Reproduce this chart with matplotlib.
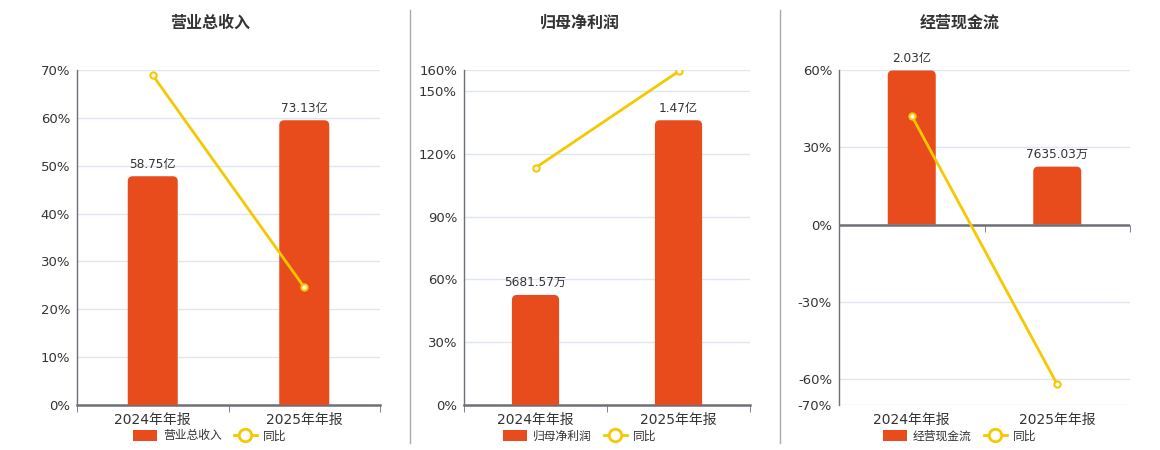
import matplotlib
matplotlib.use("Agg")
import matplotlib.pyplot as plt
from matplotlib.path import Path
from matplotlib.patches import PathPatch, Patch
from matplotlib.lines import Line2D
from matplotlib.ticker import FixedLocator, FuncFormatter
from matplotlib.transforms import IdentityTransform

plt.rcParams['font.family'] = ['DejaVu Sans', 'Noto Sans CJK SC']

categories = ["2024年年报", "2025年年报"]

titles = ["营业总收入", "归母净利润", "经营现金流"]
# bar values in 亿
bar_values = [
    [58.75, 73.13],
    [0.568157, 1.47],
    [2.03, 0.763503],
]
bar_labels = [
    ["58.75亿", "73.13亿"],
    ["5681.57万", "1.47亿"],
    ["2.03亿", "7635.03万"],
]
yoy_values = [
    [68.9, 24.6],
    [113.3, 159.3],
    [42.2, -62.0],
]
y_ticks = [
    [0, 10, 20, 30, 40, 50, 60, 70],
    [0, 30, 60, 90, 120, 150, 160],
    [-70, -60, -30, 0, 30, 60],
]
y_limits = [(0, 70), (0, 160), (-70, 60)]

BAR_COLOR = "#e84c1d"
LINE_COLOR = "#f5c800"
AXIS_COLOR = "#6e7079"
GRID_COLOR = "#e0e6f1"
TEXT_COLOR = "#333333"

W, H = 1160, 450
fig = plt.figure(figsize=(W / 100, H / 100), dpi=100)

# axes pixel boxes (left, right)
ax_boxes = [(77, 380), (464, 750), (839, 1130)]
ax_top, ax_bottom = 70, 405
panel_centers = [210, 580, 960]


def rounded_top_bars(ax, bars, r=5):
    for b in bars:
        x0, y0 = b.get_x(), b.get_y()
        x1, y1 = x0 + b.get_width(), y0 + b.get_height()
        (px0, py0), (px1, py1) = ax.transData.transform([(x0, y0), (x1, y1)])
        verts = [
            (px0, py0), (px0, py1 - r), (px0, py1), (px0 + r, py1),
            (px1 - r, py1), (px1, py1), (px1, py1 - r), (px1, py0), (px0, py0)
        ]
        codes = [Path.MOVETO, Path.LINETO, Path.CURVE3, Path.CURVE3,
                 Path.LINETO, Path.CURVE3, Path.CURVE3, Path.LINETO, Path.CLOSEPOLY]
        patch = PathPatch(Path(verts, codes), facecolor=b.get_facecolor(),
                          edgecolor='none', transform=IdentityTransform(), zorder=2)
        ax.add_artist(patch)
        b.set_visible(False)


x = list(range(len(categories)))

for i in range(3):
    l, r = ax_boxes[i]
    pos = [l / W, 1 - ax_bottom / H, (r - l) / W, (ax_bottom - ax_top) / H]
    axL = fig.add_axes(pos)
    ymin, ymax = y_limits[i]
    axL.set_ylim(ymin, ymax)
    axL.set_xlim(-0.5, 1.5)
    axL.yaxis.set_major_locator(FixedLocator(y_ticks[i]))
    axL.yaxis.set_major_formatter(FuncFormatter(lambda v, p: f"{v:.0f}%"))
    axL.tick_params(axis='y', length=0, pad=5, labelsize=9.5, labelcolor=TEXT_COLOR)
    axL.grid(axis='y', color=GRID_COLOR, linewidth=1)
    axL.set_axisbelow(True)
    for s in ['top', 'right']:
        axL.spines[s].set_visible(False)
    axL.spines['left'].set_color(AXIS_COLOR)
    axL.spines['left'].set_linewidth(1)
    axL.set_xticks(x)
    axL.set_xticklabels(categories)
    axL.set_xticks([-0.5, 0.5, 1.5], minor=True)

    # bar axis
    axB = axL.twinx()
    vals = bar_values[i]
    vmax = max(vals)
    if ymin < 0:
        top = vmax / 0.997
        axB.set_ylim(top * ymin / ymax, top)
    else:
        axB.set_ylim(0, vmax / 0.85)
    axB.set_xlim(-0.5, 1.5)
    axB.set_yticks([])
    for s in axB.spines.values():
        s.set_visible(False)

    if ymin < 0:
        axL.spines['bottom'].set_visible(False)
        axL.tick_params(axis='x', which='both', length=0, pad=6, labelsize=10,
                        labelcolor=TEXT_COLOR)
        zero_frac = (0 - ymin) / (ymax - ymin)
        sec = axL.secondary_xaxis(zero_frac)
        sec.set_alignment('bottom')
        for s in sec.spines.values():
            s.set_visible(False)
        sec.set_xticks([])
        sec.set_xticks([-0.5, 0.5, 1.5], minor=True)
        sec.tick_params(axis='x', which='minor', length=5, color=AXIS_COLOR,
                        direction='out', bottom=True, top=False)
        sec.tick_params(axis='x', which='major', length=0, labelbottom=False,
                        labeltop=False)
        axB.axhline(0, color=AXIS_COLOR, linewidth=1.8, zorder=3)
    else:
        axL.spines['bottom'].set_color(AXIS_COLOR)
        axL.spines['bottom'].set_linewidth(1.8)
        axL.tick_params(axis='x', which='major', length=0, pad=6, labelsize=10,
                        labelcolor=TEXT_COLOR)
        axL.tick_params(axis='x', which='minor', length=5, color=AXIS_COLOR)

    bars = axB.bar(x, vals, width=0.33, color=BAR_COLOR, zorder=2, label=titles[i])
    rounded_top_bars(axB, bars)
    for xi, v, lab in zip(x, vals, bar_labels[i]):
        axB.annotate(lab, (xi, v), xytext=(0, 4), textcoords='offset points',
                     ha='center', va='bottom', fontsize=8.7, color=TEXT_COLOR)

    line, = axB.plot(x, yoy_values[i], transform=axL.transData, color=LINE_COLOR,
                     linewidth=2, marker='o', markersize=4.5, markerfacecolor='white',
                     markeredgecolor=LINE_COLOR, markeredgewidth=1.5, zorder=5,
                     label="同比")

    fig.text(panel_centers[i] / W, 1 - 23 / H, titles[i], ha='center', va='center',
             fontsize=11.5, fontweight='bold', color=TEXT_COLOR)

    leg_line = Line2D([], [], color=LINE_COLOR, linewidth=2, marker='o', markersize=9,
                      markerfacecolor='white', markeredgecolor=LINE_COLOR,
                      markeredgewidth=2)
    leg_bar = Patch(facecolor=BAR_COLOR, edgecolor='none')
    fig.legend([leg_bar, leg_line], [titles[i], "同比"], loc='center',
               bbox_to_anchor=(panel_centers[i] / W, 1 - 436 / H), ncol=2,
               frameon=False, fontsize=8.5, labelcolor=TEXT_COLOR,
               handlelength=2.0, handleheight=1.0, handletextpad=0.5,
               columnspacing=1.0, borderpad=0, borderaxespad=0)

# separators
for xs in [410, 780]:
    fig.add_artist(Line2D([xs / W, xs / W], [1 - 10 / H, 1 - 443 / H],
                          color='#aaaaaa', linewidth=1))

fig.savefig("out.png", dpi=100)
